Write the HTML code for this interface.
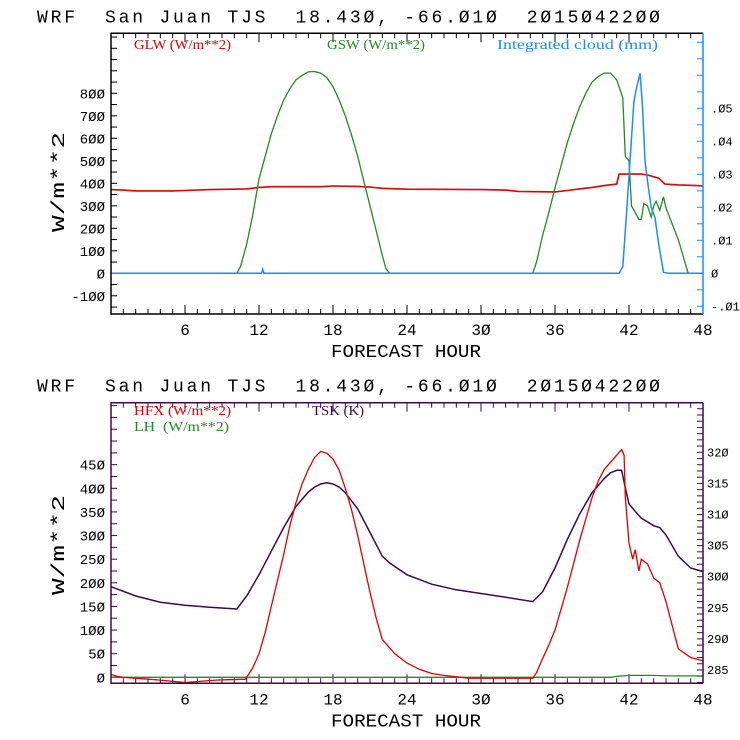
<!DOCTYPE html>
<html><head><meta charset="utf-8"><style>
html,body{margin:0;padding:0;background:#fff;}
svg{display:block;font-family:"Liberation Sans",sans-serif;}
.t{font-size:18px;font-family:"Liberation Mono",monospace;white-space:pre;}
.tick{font-family:"Liberation Mono",monospace;}
.leg{font-size:14px;font-family:"Liberation Serif",serif;white-space:pre;}
</style></head><body>
<svg id="s" width="740" height="740" viewBox="0 0 740 740" xmlns="http://www.w3.org/2000/svg">
<rect width="740" height="740" fill="#fff"/>
</svg>
<script>
// ---- data ----
const gswHours = [0,10.2,10.5,11,11.5,12,12.5,13,13.5,14,14.5,15,15.5,16,16.5,17,17.5,18,18.5,19,19.5,20,20.5,21,21.5,22,22.3,22.6,34.2,34.5,35,35.5,36,36.5,37,37.5,38,38.5,39,39.5,40,40.5,41,41.5,41.7,42.0,42.2,42.5,42.8,43,43.2,43.5,43.8,44,44.2,44.5,44.8,45,46,46.8,48];
const gswVals  = [0,0,30,130,260,420,520,620,700,770,820,860,880,895,897,890,870,830,770,700,615,520,410,300,190,80,20,0,0,50,170,270,380,480,580,665,740,800,850,875,890,890,860,780,520,500,300,270,240,240,310,300,250,300,320,280,340,290,150,0,0];
const glwHours = [0,1,2,5,6,8,11,12,13,17,18,20,21,22,24,30,32,33,36,37,38,39,40,41,41.2,43,43.5,44.4,44.9,46,47.5,48];
const glwVals  = [372,370,366,366,368,372,375,382,385,385,388,386,383,378,374,372,370,364,362,368,375,382,390,397,441,441,437,423,397,393,390,388];
const cldHours = [0,12.2,12.3,12.4,41.2,41.5,41.8,42.1,42.4,42.6,42.9,43.1,43.3,43.5,43.8,44.1,44.4,44.8,45.2,48];
const cldVals  = [0,0,0.0012,0,0,0.002,0.018,0.035,0.052,0.056,0.0606,0.05,0.034,0.028,0.02,0.017,0.009,0.0003,0,0];
const hfxHours = [0,0.5,1,2.5,4,6,8.5,9.5,10.9,11.5,12,12.5,13,13.5,14,14.5,15,15.5,16,16.5,17,17.5,18,18.5,19,19.5,20,20.5,21,21.5,22,23,24,25,26,27,28,29,34.2,34.5,35,35.5,36,36.5,37,37.5,38,38.5,39,39.5,40,41,41.4,41.6,41.7,42.0,42.3,42.5,42.8,43.0,43.5,44,44.5,45,46,47,48];
const hfxVals  = [6,2,0,-3,-6,-11,-6,-5,-4,20,50,95,150,205,260,320,370,410,440,465,478,474,462,438,400,355,300,240,180,125,80,50,30,17,8,4,1,-2,-2,10,40,68,100,145,190,240,290,335,380,415,440,470,482,470,382,284,250,270,225,250,240,210,200,160,60,42,35];
const tskHours = [0,2,4,6,8,10.2,11,12,13,14,15,16,16.5,17,17.5,18,18.5,19,20,21,22,22.6,24,26,28,30,32,34.2,35,36,37,38,39,40,40.5,41,41.4,41.5,41.7,42,42.5,43,44,44.5,45,46,47,48];
const tskVals  = [298.4,296.9,295.9,295.4,295.1,294.8,296.9,300.3,304.1,307.9,311.3,313.6,314.4,314.9,315.1,314.9,314.4,313.5,310.9,307.1,303.3,302.2,300.3,298.8,297.9,297.3,296.7,296.0,297.6,301.4,306,310.1,313.5,315.8,316.7,317.1,317.1,316.2,314.3,311.7,310.5,309.4,308.2,307.9,306.7,303.3,301.4,300.8];
const lhHours = [0,40.5,41,42,44,45,48];
const lhVals  = [0,0,2,4,4,3,3];
const xTicks = [6,12,18,24,30,36,42,48];
const topLeftTicks = [-100,0,100,200,300,400,500,600,700,800];
const topRightTicks = [-0.01,0,0.01,0.02,0.03,0.04,0.05];
const topRightLabels = ["-.01","0",".01",".02",".03",".04",".05"];
const botLeftTicks = [0,50,100,150,200,250,300,350,400,450];
const botRightTicks = [285,290,295,300,305,310,315,320];

const S=document.getElementById('s');
const NS='http://www.w3.org/2000/svg';
function el(tag,attrs,parent){const e=document.createElementNS(NS,tag);for(const k in attrs)e.setAttribute(k,attrs[k]);(parent||S).appendChild(e);return e;}
const X0=111,X1=703;
function xs(h){return X0+(X1-X0)*h/48;}
const fmt=v=>String(v).replace(/0/g,'\u00d8');

function panel(cfg){
  const g=el('g',{});
  
  
  const t=el('text',{x:37,y:cfg.top-11,class:'t',textLength:623,lengthAdjust:'spacing'},g);
  t.textContent='WRF  San Juan TJS  18.43\u00d8, -66.\u00d81\u00d8  2\u00d815\u00d8422\u00d8\u00d8';
  
  
  const Y0=cfg.top,Y1=cfg.bottom;
  const cid='c'+Math.round(cfg.top);
  const cp=el('clipPath',{id:cid},g);el('rect',{x:X0,y:Y0,width:X1-X0,height:Y1-Y0},cp);
  for(let h=1;h<48;h++){
    const len=h%6===0?9:5;
    const tk=el('path',{d:`M${xs(h)},${Y1}v${-len}M${xs(h)},${Y0}v${len}`,stroke:cfg.frame,'stroke-width':1},g);
    
    
  }
  xTicks.forEach(h=>{const l=el('text',{x:xs(h),y:Y1+21,class:'tick','text-anchor':'middle','font-size':16},g);l.textContent=fmt(h);
    });
  const xl=el('text',{x:331,y:Y1+43,class:'t','font-size':17,textLength:150,lengthAdjust:'spacingAndGlyphs'},g);xl.textContent='FORECAST HOUR';
  
  const yl=el('text',{x:0,y:0,class:'t','font-size':18,textLength:100,lengthAdjust:'spacingAndGlyphs',transform:`translate(64,${cfg.ytc+50}) rotate(-90)`},g);yl.textContent='W/m**2';
  
  for(let v=cfg.lmin;v<=cfg.lmax;v+=cfg.lstep){const y=cfg.ly(v);if(y<Y0||y>Y1)continue;
    el('path',{d:`M${X0},${y}h6`,stroke:cfg.frame},g);}
  cfg.lticks.forEach(v=>{const l=el('text',{x:105,y:cfg.ly(v)+5,class:'tick','text-anchor':'end','font-size':14},g);l.textContent=fmt(v);
    });
  for(let v=cfg.rmin;v<=cfg.rmax+1e-9;v+=cfg.rstep){const y=cfg.ry(v);if(y<Y0||y>Y1)continue;
    el('path',{d:`M${X1},${y}h-6`,stroke:cfg.rframe},g);}
  cfg.rticks.forEach((v,i)=>{const l=el('text',{x:cfg.rx,y:cfg.ry(v)+4,class:'tick','font-size':12},g);l.textContent=fmt(cfg.rlabels?cfg.rlabels[i]:v);
    });
  cfg.series.forEach(s=>{
    const d=s.h.map((h,i)=>(i?'L':'M')+xs(h).toFixed(1)+','+s.y(s.v[i]).toFixed(1)).join('');
    const p=el('path',{d,fill:'none',stroke:s.c,'stroke-width':s.w||1.3,'clip-path':`url(#${cid})`},g);
    
    
  });
  cfg.legend.forEach(L=>{const l=el('text',{x:L.x,y:L.y,class:'leg',fill:L.c,textLength:L.w,lengthAdjust:'spacingAndGlyphs'},g);l.textContent=L.t;
    });
  const f=el('path',{d:`M${X1},${Y0}H${X0}V${Y1}H${X1}`,fill:'none',stroke:cfg.frame,'stroke-width':1.5},g);
  
  el('path',{d:`M${X1},${Y0}V${Y1}`,stroke:cfg.rframe,'stroke-width':1.5},g);
}

const topLy=v=>273.3-v*0.225;
const topRy=v=>273.3-v*3300;
const botLy=v=>677.3-v*0.4725;
const botRy=v=>452.3-(v-320)*6.22;
const RED='#e00000',GRN='#228b22',BLU='#1a8cff',PUR='#3c0a4a';

panel({name:'radiation-panel',top:33.3,bottom:314,frame:'#000',rframe:BLU,ytc:182,
  ly:topLy,lmin:-200,lmax:1200,lstep:50,lticks:topLeftTicks,
  ry:topRy,rmin:-0.02,rmax:0.08,rstep:0.005,rticks:topRightTicks,rlabels:topRightLabels,rx:711,
  series:[
    {name:'glw-line',h:glwHours,v:glwVals,y:topLy,c:RED,w:1.6},
    {name:'gsw-line',h:gswHours,v:gswVals,y:topLy,c:GRN},
    {name:'cloud-line',h:cldHours,v:cldVals,y:topRy,c:BLU,w:1.5}
  ],
  legend:[{x:134,y:49,c:RED,t:'GLW (W/m**2)',w:97},{x:327,y:49,c:GRN,t:'GSW (W/m**2)',w:98},{x:497,y:49,c:BLU,t:'Integrated cloud (mm)',w:161}]
});
panel({name:'flux-panel',top:402.7,bottom:683.3,frame:PUR,rframe:PUR,ytc:545,
  ly:botLy,lmin:-25,lmax:600,lstep:25,lticks:botLeftTicks,
  ry:botRy,rmin:280,rmax:330,rstep:1,rticks:botRightTicks,rx:707,
  series:[
    {name:'lh-line',h:lhHours,v:lhVals,y:botLy,c:GRN},
    {name:'tsk-line',h:tskHours,v:tskVals,y:botRy,c:PUR,w:1.5},
    {name:'hfx-line',h:hfxHours,v:hfxVals,y:botLy,c:RED}
  ],
  legend:[{x:134,y:415,c:RED,t:'HFX (W/m**2)',w:97},{x:134,y:431,c:GRN,t:'LH  (W/m**2)',w:95},{x:312,y:415,c:PUR,t:'TSK (K)',w:52}]
});
</script>
</body></html>
